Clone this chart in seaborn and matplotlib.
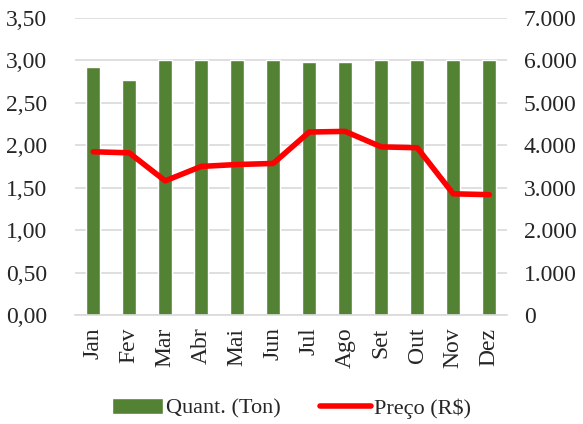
import matplotlib
matplotlib.use('Agg')
import matplotlib.pyplot as plt
from matplotlib.ticker import FuncFormatter, MultipleLocator
import pandas as pd
import seaborn as sns

# Monthly quantity (tons) and price (R$)
months = ['Jan', 'Fev', 'Mar', 'Abr', 'Mai', 'Jun', 'Jul', 'Ago', 'Set', 'Out', 'Nov', 'Dez']
quant_ton = [2.92, 2.77, 3.00, 3.00, 3.00, 3.00, 2.98, 2.98, 3.00, 3.00, 3.00, 3.00]
preco = [3845, 3820, 3160, 3500, 3545, 3570, 4310, 4325, 3960, 3940, 2855, 2835]

data = pd.DataFrame({'mes': months, 'quant': quant_ton, 'preco': preco})

sns.set_style('white')
plt.rcParams['font.family'] = ['Liberation Serif', 'DejaVu Serif']
plt.rcParams['font.size'] = 17

fig = plt.figure(figsize=(5.83, 4.24), dpi=100)
ax = fig.add_axes([0.129, 0.257, 0.741, 0.701])

sns.barplot(data=data, x='mes', y='quant', color='#548235', saturation=1,
            width=0.4, ax=ax, label='Quant. (Ton)', zorder=2)
ax.set_ylim(0, 3.5)
ax.yaxis.set_major_locator(MultipleLocator(0.5))
ax.yaxis.set_major_formatter(FuncFormatter(lambda v, p: f'{v:.2f}'.replace('.', ',')))
ax.grid(axis='y', color='#d9d9d9', linewidth=1.2, zorder=0)
ax.set_axisbelow(True)
ax.set_xlabel('')
ax.set_ylabel('')
ax.tick_params(axis='x', rotation=90, length=0, pad=9)
ax.tick_params(axis='y', length=0, pad=20)
for s in ['top', 'left', 'right']:
    ax.spines[s].set_visible(False)
ax.spines['bottom'].set_color('#d9d9d9')
ax.spines['bottom'].set_linewidth(1.2)

ax2 = ax.twinx()
sns.lineplot(data=data, x='mes', y='preco', color='#ff0000', linewidth=4,
             sort=False, ax=ax2, label='Preço (R$)')
ax2.set_ylim(0, 7000)
ax2.yaxis.set_major_locator(MultipleLocator(1000))
ax2.yaxis.set_major_formatter(FuncFormatter(lambda v, p: f'{int(v):,}'.replace(',', '.')))
ax2.set_ylabel('')
ax2.tick_params(axis='y', length=0, pad=12)
for s in ['top', 'left', 'right', 'bottom']:
    ax2.spines[s].set_visible(False)
ax.set_xlim(-0.5, len(months) - 0.5)

h1, l1 = ax.get_legend_handles_labels()
h2, l2 = ax2.get_legend_handles_labels()
if ax.get_legend():
    ax.get_legend().remove()
if ax2.get_legend():
    ax2.get_legend().remove()
fig.legend(h1 + h2, l1 + l2, loc='center', bbox_to_anchor=(0.5, 0.037), ncol=2,
           frameon=False, handlelength=2.3, handletextpad=0.1, columnspacing=1.8,
           fontsize=16)

fig.savefig('out.png', dpi=100)
